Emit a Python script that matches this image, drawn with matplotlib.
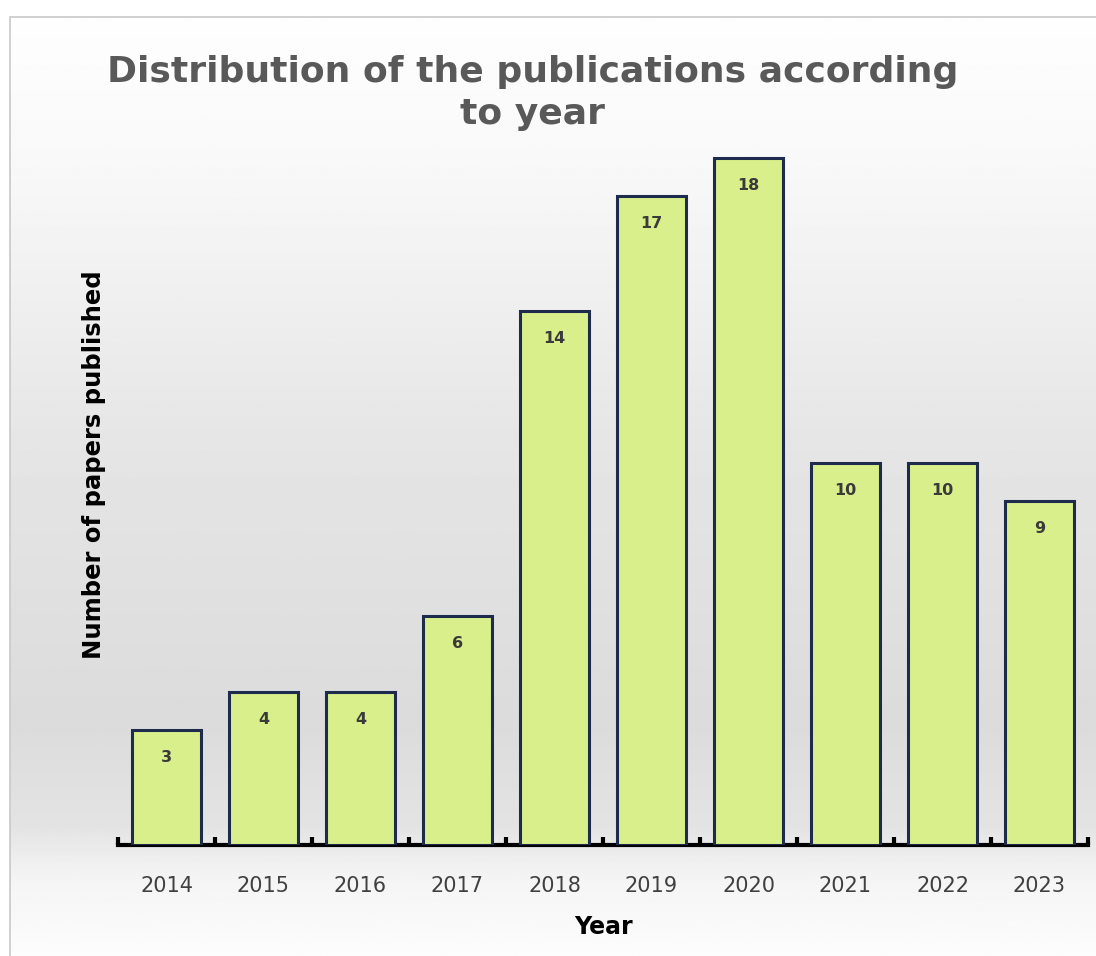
import matplotlib

matplotlib.use("Agg")
import matplotlib.pyplot as plt
import numpy as np
from matplotlib.patches import Rectangle

# --- Data ---
years = ["2014", "2015", "2016", "2017", "2018", "2019", "2020", "2021", "2022", "2023"]
papers = [3, 4, 4, 6, 14, 17, 18, 10, 10, 9]

title = "Distribution of the publications according\nto year"
ylabel = "Number of papers published"
xlabel = "Year"

W, H = 1096, 956
fig = plt.figure(figsize=(W / 100, H / 100), dpi=100)
fig.patch.set_facecolor("white")

# --- Background panel with vertical gray gradient ---
bg = fig.add_axes([10 / W, 0, 1 - 10 / W, 1 - 17 / H], zorder=0)
rows = np.linspace(0, 1, 400)  # 0 = top of panel, 1 = bottom
stops = [0.0, 0.15, 0.45, 0.75, 0.86, 0.92, 1.0]
vals = [0.995, 0.975, 0.90, 0.86, 0.89, 0.96, 0.99]
shade = np.interp(rows, stops, vals)
grad = np.repeat(shade[:, None], 10, axis=1)
bg.imshow(grad, cmap="gray", vmin=0, vmax=1, aspect="auto", extent=[0, 1, 0, 1])
bg.set_xlim(0, 1)
bg.set_ylim(0, 1)
bg.axis("off")
fig.patches.append(
    Rectangle((10 / W, -0.01), 1.0, 1 - 17 / H + 0.01, transform=fig.transFigure,
              fill=False, edgecolor="#c8c8c8", linewidth=1.2, zorder=1)
)

# --- Bar axes ---
ax = fig.add_axes([118 / W, 111 / H, 970 / W, 705 / H], zorder=2)
ax.patch.set_alpha(0)
x = np.arange(len(years))
ax.bar(x, papers, width=0.71, color="#d9ef8b", edgecolor="#1f2b4d", linewidth=2.2, zorder=3)

for xi, v in zip(x, papers):
    ax.text(xi, v - 0.72, str(v), ha="center", va="center", fontsize=11.5,
            fontweight="bold", color="#3a3a3a", zorder=4)

ax.set_xlim(-0.5, len(years) - 0.5)
ax.set_ylim(0, 18.47)
ax.set_xticks(x)
ax.set_xticklabels(years, fontsize=15, color="#404040")
ax.set_xticks(np.arange(-0.5, len(years)), minor=True)
ax.tick_params(axis="x", which="major", length=0, pad=22)
ax.tick_params(axis="x", which="minor", length=6, width=3, direction="in", color="black")
ax.set_yticks([])
for s in ["top", "right", "left"]:
    ax.spines[s].set_visible(False)
ax.spines["bottom"].set_linewidth(3)
ax.spines["bottom"].set_color("black")

ax.set_xlabel(xlabel, fontsize=17, fontweight="bold", color="black", labelpad=14)
ax.set_ylabel(ylabel, fontsize=17.5, fontweight="bold", color="black")
ax.yaxis.set_label_coords(-0.012, (845 - 465) / 705)

fig.text(533 / W, 1 - 93 / H, title, ha="center", va="center", fontsize=26,
         fontweight="bold", color="#595959", linespacing=1.32)

fig.savefig("out.png", dpi=100)
plt.close(fig)
